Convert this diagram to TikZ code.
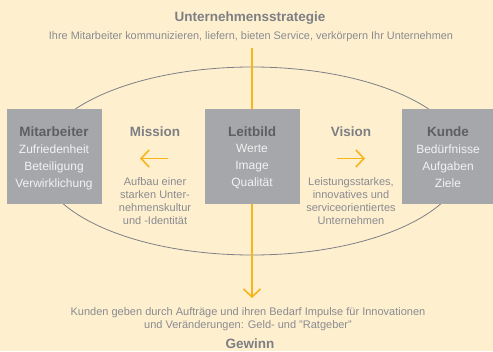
\documentclass[tikz,border=0pt]{standalone}
\usepackage{fontspec}
\setmainfont{Liberation Sans}
\usetikzlibrary{arrows.meta}
\definecolor{bg}{HTML}{FEEFCF}
\definecolor{boxgray}{HTML}{A6A7AB}
\definecolor{darktxt}{HTML}{5E5F63}
\definecolor{midtxt}{HTML}{7E7F84}
\definecolor{lighttxt}{HTML}{8A8B90}
\definecolor{boxtxt}{HTML}{F2F2F2}
\definecolor{orangeline}{HTML}{F7B51C}
\definecolor{ellgray}{HTML}{7F8086}
\tikzset{
  x=1pt,y=-1pt,
  bigbox/.style={fill=boxgray,draw=none,minimum width=95pt,minimum height=95pt,inner sep=0pt},
  boxtitle/.style={font=\fontsize{13.5}{15}\selectfont\bfseries,text=darktxt,inner sep=0pt},
  boxbody/.style={font=\fontsize{12}{17}\selectfont,text=boxtxt,align=center,inner sep=0pt},
  headtxt/.style={font=\fontsize{13.5}{15}\selectfont\bfseries,text=midtxt,inner sep=0pt},
  smalltxt/.style={font=\fontsize{11}{13}\selectfont,text=lighttxt,align=center,inner sep=0pt},
  orangearrow/.style={draw=orangeline,line width=1.6pt,-{Straight Barb[length=8pt,width=17pt,line width=1.6pt]}},
}
\begin{document}
\begin{tikzpicture}
\fill[bg] (0,0) rectangle (493,351);
\useasboundingbox (0,0) rectangle (493,351);
% ellipse
\draw[ellgray,line width=0.8pt] (252,161) ellipse [x radius=212,y radius=94];
% titles
\node[headtxt] (strat) at (250,18) {Unternehmensstrategie};
\node[smalltxt,font=\fontsize{10.9}{13}\selectfont] (sub) at (251,37) {Ihre Mitarbeiter kommunizieren, liefern, bieten Service, verkörpern Ihr Unternehmen};
% vertical line
\coordinate (top) at (252,48);
\coordinate (tip) at (252,298);
\draw[orangearrow] (top) -- (tip);
% boxes
\node[bigbox] (mit) at (54,156.5) {};
\node[bigbox] (leit) at (252.5,156.5) {};
\begin{scope}
\clip (0,0) rectangle (493,351);
\node[bigbox] (kunde) at (449.5,156.5) {};
\end{scope}
\node[boxtitle] (mitT) at (54,132) {Mitarbeiter};
\node[boxbody,anchor=north] (mitB) at (54,144.5) {Zufriedenheit\\Beteiligung\\Verwirklichung};
\node[boxtitle] (leitT) at (252,132) {Leitbild};
\node[boxbody,anchor=north] (leitB) at (252,144.5) {Werte\\Image\\Qualität};
\node[boxtitle] (kundeT) at (448,132) {Kunde};
\node[boxbody,anchor=north] (kundeB) at (448,144.5) {Bedürfnisse\\Aufgaben\\Ziele};
% mission / vision
\node[headtxt] (mission) at (155,132) {Mission};
\coordinate (mA) at (168,158.5);
\coordinate (mB) at (140,158.5);
\draw[orangearrow] (mA) -- (mB);
\node[smalltxt,anchor=north] (missT) at (155,177) {Aufbau einer\\starken Unter-\\nehmenskultur\\und -Identität};
\node[headtxt] (vision) at (351,132) {Vision};
\coordinate (vA) at (337,158.5);
\coordinate (vB) at (365,158.5);
\draw[orangearrow] (vA) -- (vB);
\node[smalltxt,anchor=north] (visT) at (351,177) {Leistungsstarkes,\\innovatives und\\serviceorientiertes\\Unternehmen};
% bottom
\node[smalltxt,anchor=north] (bot) at (248,307) {Kunden geben durch Aufträge und ihren Bedarf Impulse für Innovationen\\und Veränderungen: Geld- und "Ratgeber"};
\node[headtxt] (gewinn) at (250,344) {Gewinn};
\end{tikzpicture}
\end{document}
